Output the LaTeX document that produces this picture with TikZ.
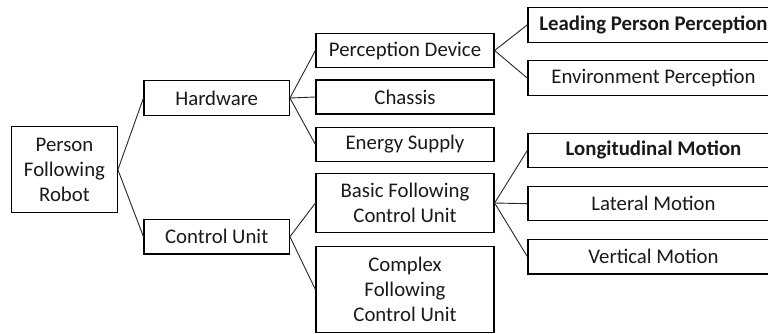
\documentclass[tikz,border=0pt]{standalone}
\usepackage{fontspec}
\setmainfont{Carlito}
\begin{document}
\begin{tikzpicture}[x=1pt,y=-1pt,
  box/.style={draw=black,line width=1.2pt,inner sep=0pt,align=center,
    font=\fontsize{20.8}{25}\selectfont,text=black!90},
  link/.style={draw=black!85,line width=0.9pt}]
\useasboundingbox (0,0) rectangle (768,333);
\clip (0,0) rectangle (768,333);
\node[box,minimum width=105.6pt,minimum height=86pt] (root) at (64.5,169.7) {Person\\Following\\Robot};
\node[box,minimum width=145.3pt,minimum height=34.6pt] (hw) at (216.7,98) {Hardware};
\node[box,minimum width=145.3pt,minimum height=34.6pt] (cu) at (216.7,236.7) {Control Unit};
\node[box,minimum width=178pt,minimum height=34.4pt] (pd) at (405,50.5) {Perception Device};
\node[box,minimum width=178pt,minimum height=34pt] (ch) at (405,97) {Chassis};
\node[box,minimum width=178pt,minimum height=34.4pt] (es) at (405,144.5) {Energy Supply};
\node[box,minimum width=178pt,minimum height=59.4pt] (bf) at (405,203) {Basic Following\\Control Unit};
\node[box,minimum width=178pt,minimum height=85.6pt] (cf) at (405,289.5) {Complex\\Following\\Control Unit};
\node[box,minimum width=251pt,minimum height=35pt,font=\fontsize{20.8}{25}\selectfont\bfseries] (lpp) at (653.5,24.8) {Leading Person Perception};
\node[box,minimum width=251pt,minimum height=35pt] (ep) at (653.5,78.2) {Environment Perception};
\node[box,minimum width=251pt,minimum height=34pt,font=\fontsize{20.8}{25}\selectfont\bfseries] (lm) at (653.5,150.3) {Longitudinal Motion};
\node[box,minimum width=251pt,minimum height=34pt] (lat) at (653.5,203.7) {Lateral Motion};
\node[box,minimum width=251pt,minimum height=34.7pt] (vm) at (653.5,256.7) {Vertical Motion};
\draw[link] (root.east) -- (hw.west);
\draw[link] (root.east) -- (cu.west);
\draw[link] (hw.east) -- (pd.west);
\draw[link] (hw.east) -- (ch.west);
\draw[link] (hw.east) -- (es.west);
\draw[link] (cu.east) -- (bf.west);
\draw[link] (cu.east) -- (cf.west);
\draw[link] (pd.east) -- (lpp.west);
\draw[link] (pd.east) -- (ep.west);
\draw[link] (bf.east) -- (lm.west);
\draw[link] (bf.east) -- (lat.west);
\draw[link] (bf.east) -- (vm.west);
\end{tikzpicture}
\end{document}
